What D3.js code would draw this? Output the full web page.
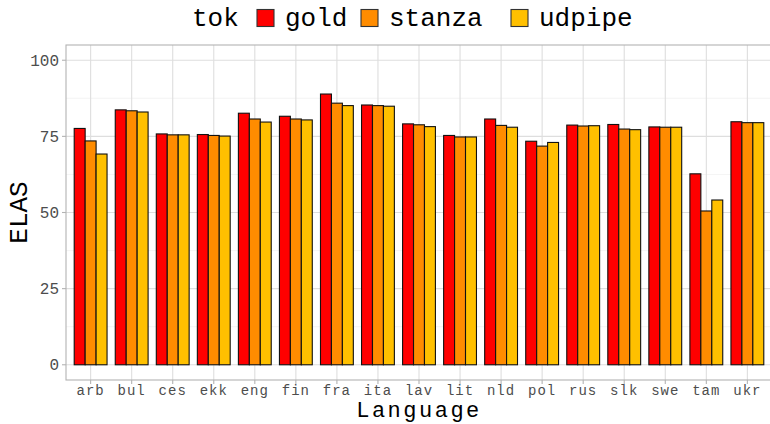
<!DOCTYPE html>
<html>
<head>
<meta charset="utf-8">
<script src="https://cdn.jsdelivr.net/npm/d3@7"></script>
<style>
  html, body { margin: 0; padding: 0; background: #fff; }
  svg { display: block; font-family: "Liberation Mono", "Courier New", monospace; }
</style>
</head>
<body>
<svg id="chart" width="770" height="424"></svg>
<script>
// ELAS scores per language and tokenizer
const languages = ["arb","bul","ces","ekk","eng","fin","fra","ita","lav","lit","nld","pol","rus","slk","swe","tam","ukr"];
const tokenizers = ["gold","stanza","udpipe"];
const goldValues   = [77.6, 83.7, 75.8, 75.6, 82.6, 81.6, 88.9, 85.3, 79.1, 75.3, 80.7, 73.4, 78.7, 78.9, 78.1, 62.7, 79.8];
const stanzaValues = [73.5, 83.4, 75.5, 75.3, 80.7, 80.7, 85.9, 85.1, 78.8, 74.8, 78.6, 71.8, 78.4, 77.4, 78.0, 50.5, 79.5];
const udpipeValues = [69.2, 83.0, 75.5, 75.1, 79.7, 80.4, 85.1, 84.9, 78.2, 74.8, 78.0, 73.0, 78.5, 77.2, 78.0, 54.1, 79.5];
const yTicks = [0, 25, 50, 75, 100];
const yMinorTicks = [12.5, 37.5, 62.5, 87.5];
const colors = ["#FF0000", "#FF8C00", "#FFC000"];

const seriesValues = [goldValues, stanzaValues, udpipeValues];
const rows = [];
languages.forEach((lang, i) => {
  tokenizers.forEach((tok, j) => rows.push({ lang, tok, value: seriesValues[j][i] }));
});

const svg = d3.select("#chart");
const panel = { left: 66, right: 772, top: 45, bottom: 380 };

// discrete x scale with 0.6 of a step of padding on each side
const x = d3.scalePoint()
  .domain(languages)
  .range([panel.left, panel.right])
  .padding(0.6);
const step = x.step();
const xSub = d3.scaleBand().domain(tokenizers).range([-step * 0.4, step * 0.4]);

const y = d3.scaleLinear().domain([-5, 105]).range([panel.bottom, panel.top]);
const color = d3.scaleOrdinal().domain(tokenizers).range(colors);

// panel grid
const grid = svg.append("g");
grid.selectAll("line.minor").data(yMinorTicks).join("line")
  .attr("x1", panel.left).attr("x2", panel.right)
  .attr("y1", d => y(d)).attr("y2", d => y(d))
  .attr("stroke", "#ededed").attr("stroke-width", 0.6);
grid.selectAll("line.majorY").data(yTicks).join("line")
  .attr("x1", panel.left).attr("x2", panel.right)
  .attr("y1", d => y(d)).attr("y2", d => y(d))
  .attr("stroke", "#dedede").attr("stroke-width", 1.1);
grid.selectAll("line.majorX").data(languages).join("line")
  .attr("x1", d => x(d)).attr("x2", d => x(d))
  .attr("y1", panel.top).attr("y2", panel.bottom)
  .attr("stroke", "#dedede").attr("stroke-width", 1.1);

// bars
svg.append("g").selectAll("rect").data(rows).join("rect")
  .attr("x", d => x(d.lang) + xSub(d.tok))
  .attr("width", xSub.bandwidth())
  .attr("y", d => y(d.value))
  .attr("height", d => y(0) - y(d.value))
  .attr("fill", d => color(d.tok))
  .attr("stroke", "#111")
  .attr("stroke-width", 1.1);

// panel border
svg.append("rect")
  .attr("x", panel.left).attr("y", panel.top)
  .attr("width", panel.right - panel.left).attr("height", panel.bottom - panel.top)
  .attr("fill", "none").attr("stroke", "#b3b3b3").attr("stroke-width", 1.1);

// y axis
const yAxis = svg.append("g");
yAxis.selectAll("line").data(yTicks).join("line")
  .attr("x1", panel.left - 4).attr("x2", panel.left)
  .attr("y1", d => y(d)).attr("y2", d => y(d))
  .attr("stroke", "#b3b3b3").attr("stroke-width", 1.1);
yAxis.selectAll("text").data(yTicks).join("text")
  .attr("x", panel.left - 7).attr("y", d => y(d))
  .attr("dy", "0.35em").attr("text-anchor", "end")
  .attr("font-size", 16).attr("fill", "#4d4d4d")
  .text(d => d);

// x axis
const xAxis = svg.append("g");
xAxis.selectAll("line").data(languages).join("line")
  .attr("x1", d => x(d)).attr("x2", d => x(d))
  .attr("y1", panel.bottom).attr("y2", panel.bottom + 4)
  .attr("stroke", "#b3b3b3").attr("stroke-width", 1.1);
xAxis.selectAll("text").data(languages).join("text")
  .attr("x", d => x(d)).attr("y", panel.bottom + 14.5)
  .attr("text-anchor", "middle")
  .attr("font-size", 14).attr("letter-spacing", 1).attr("fill", "#4d4d4d")
  .text(d => d);

// axis titles
svg.append("text")
  .attr("x", (panel.left + panel.right) / 2).attr("y", 417.3)
  .attr("text-anchor", "middle").attr("font-size", 22).attr("letter-spacing", 2.5)
  .attr("fill", "#000")
  .text("Language");
svg.append("text")
  .attr("transform", `translate(27,${(panel.top + panel.bottom) / 2}) rotate(-90)`)
  .attr("text-anchor", "middle").attr("font-size", 26).attr("fill", "#000")
  .text("ELAS");

// legend
const legend = svg.append("g");
legend.append("text").attr("x", 192).attr("y", 26)
  .attr("font-size", 26).attr("fill", "#000").text("tok");
const keyX = [257, 361, 511];
tokenizers.forEach((tok, i) => {
  legend.append("rect")
    .attr("x", keyX[i]).attr("y", 9.5).attr("width", 17).attr("height", 17)
    .attr("fill", color(tok)).attr("stroke", "#333").attr("stroke-width", 1.1);
  legend.append("text").attr("x", keyX[i] + 28).attr("y", 26)
    .attr("font-size", 26).attr("fill", "#000").text(tok);
});
</script>
</body>
</html>
